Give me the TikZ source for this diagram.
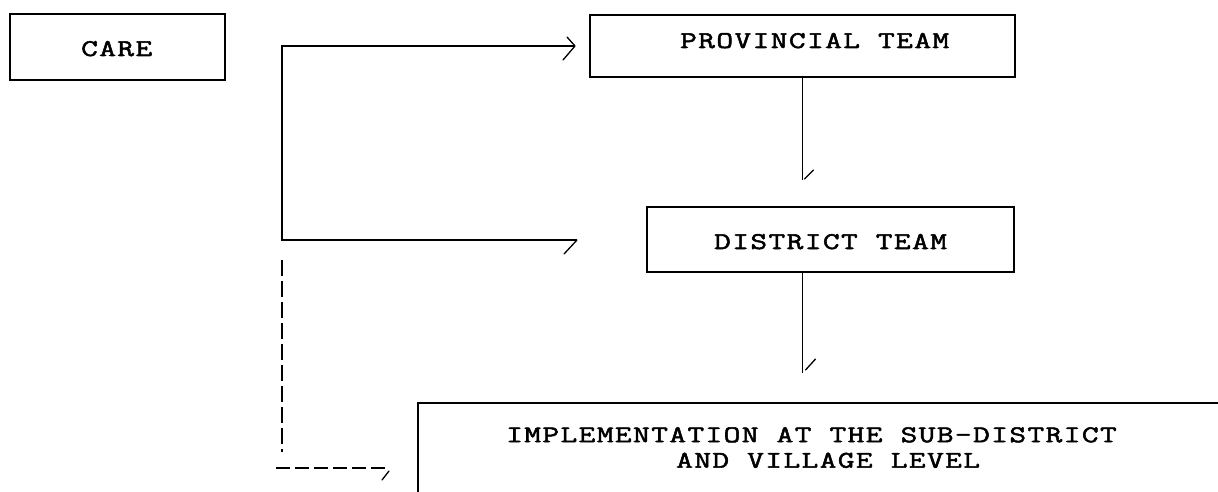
\documentclass[tikz,border=0pt]{standalone}
\usepackage{fontspec}
\newfontfamily\tw[FakeStretch=1.35, LetterSpace=6, FakeBold=2.2]{Latin Modern Mono}
\begin{document}
\begin{tikzpicture}[x=1pt,y=-1pt,
  box/.style={draw, rectangle, inner sep=0pt, line width=1.7pt},
  lbl/.style={inner sep=0pt, anchor=base west, font=\tw\fontsize{24}{25.5}\selectfont},
  conn/.style={line width=1.6pt},
  barb/.style={line width=1.3pt, line cap=round},
  dconn/.style={line width=1.6pt, dash pattern=on 16pt off 5pt}]
\useasboundingbox (0,0) rectangle (1218,492);
\clip (0,0) rectangle (1218,492);
\fill[white] (0,0) rectangle (1218,492);
% boxes
\node[box, minimum width=215pt, minimum height=66pt] (care) at (117.5,47) {};
\node[lbl] (caret) at (81,56) {CARE};
\node[box, minimum width=425pt, minimum height=62pt] (prov) at (802.5,46) {};
\node[lbl] (provt) at (680,48) {PROVINCIAL TEAM};
\node[box, minimum width=367pt, minimum height=65pt] (dist) at (830.5,239.5) {};
\node[lbl] (distt) at (714,249) {DISTRICT TEAM};
\node[box, anchor=north west, minimum width=900pt, minimum height=200pt] (impl) at (417,402) {};
\node[lbl, anchor=north west, align=left] (implt) at (506,427)
  {IMPLEMENTATION AT THE SUB-DISTRICT\\[0pt]\hspace*{170pt}AND VILLAGE LEVEL};
% coordinates
\coordinate (btop) at (282,46);
\coordinate (bbot) at (282,240);
\coordinate (ptip) at (575,46);
\coordinate (dtip) at (577,240);
\coordinate (dvs) at (282,260);
\coordinate (dve) at (282,452);
\coordinate (dhs) at (276,468);
\coordinate (dht) at (388,468);
\coordinate (a1) at (802.5,180);
\coordinate (a2) at (802.5,373);
% bracket
\draw[conn] (ptip) -- (btop) -- (bbot) -- (dtip);
\draw[barb] (ptip) -- ++(-8,-9) (ptip) -- ++(-12,14);
\draw[barb] (dtip) -- ++(-13,14);
% dashed
\draw[dconn] (dvs) -- (dve);
\draw[dconn, dash pattern=on 14pt off 5pt] (dhs) -- (dht);
\draw[barb] (dht) ++(1,3) -- ++(-7,9);
% vertical arrows
\draw[conn] (prov.south) -- (a1);
\draw[barb] (a1) ++(2,-1) -- ++(9,-9);
\draw[conn] (dist.south -| a2) -- (a2);
\draw[barb] (a2) ++(3,-3) -- ++(10,-11);
\end{tikzpicture}
\end{document}
